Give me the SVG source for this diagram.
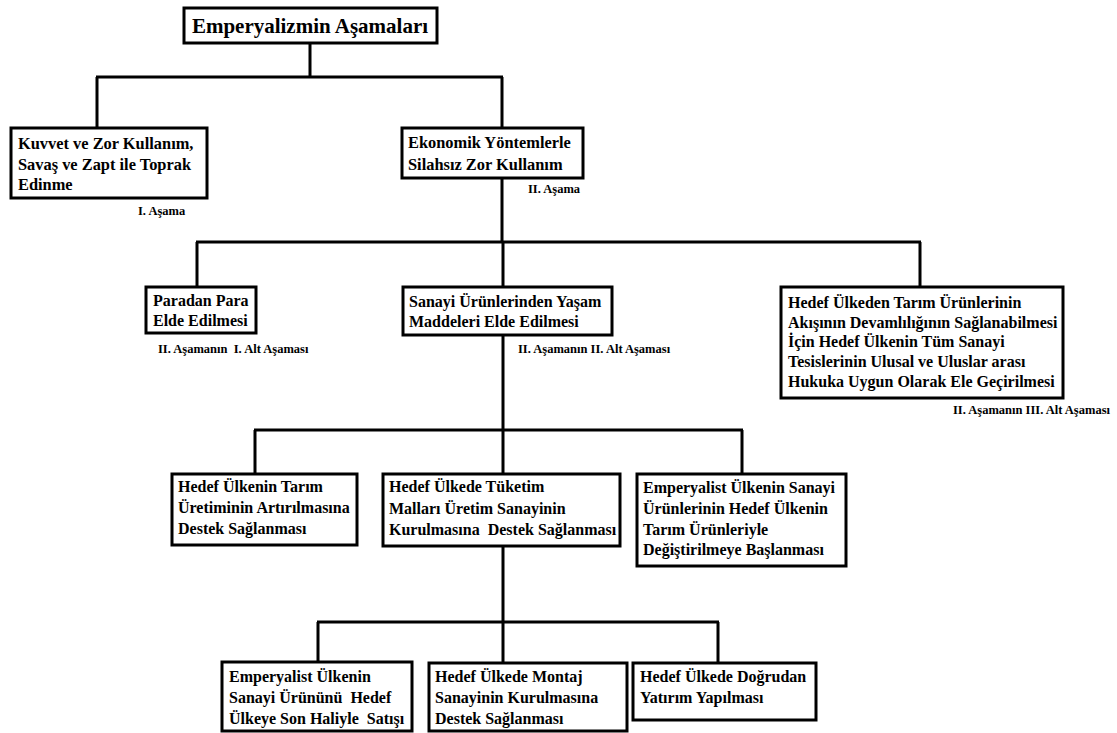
<svg xmlns="http://www.w3.org/2000/svg" width="1117" height="733" viewBox="0 0 1117 733">
<style>
.box{fill:#fff;stroke:#000;stroke-width:3}
.t{font-family:"Liberation Serif","Times New Roman",serif;font-weight:bold;font-size:16px;fill:#000}
.t1{font-size:16.4px}
.title{font-family:"Liberation Serif","Times New Roman",serif;font-weight:bold;font-size:21px;fill:#000}
.lbl{font-family:"Liberation Serif","Times New Roman",serif;font-weight:bold;font-size:12.5px;fill:#000}
.c{fill:none;stroke:#000;stroke-width:3}
</style>
<rect width="1117" height="733" fill="#fff"/>
<g id="connectors" class="c">
<path d="M310,43 V77 M96,77 H503 M97,77 V128 M502,77 V128"/>
<path d="M502,178 V242 M196,242 H921 M197,242 V287 M503,242 V287 M920,242 V287"/>
<path d="M503,335 V474 M254,430 H743 M255,430 V474 M742,430 V474"/>
<path d="M503,546 V663 M317,622 H719 M318,622 V662 M718,622 V663"/>
</g>
<g id="n0">
<rect class="box" x="184" y="8" width="253" height="35"/>
<text class="title" x="310" y="33" text-anchor="middle">Emperyalizmin Aşamaları</text>
</g>
<g id="n1">
<rect class="box" x="11" y="128" width="196" height="70"/>
<text class="t t1" x="18" y="149">Kuvvet ve Zor Kullanım,</text>
<text class="t t1" x="18" y="170">Savaş ve Zapt ile Toprak</text>
<text class="t t1" x="18" y="190">Edinme</text>
<text class="lbl" x="138" y="215">I. Aşama</text>
</g>
<g id="n2">
<rect class="box" x="402" y="128" width="181" height="50"/>
<text class="t t1" x="408" y="148">Ekonomik Yöntemlerle</text>
<text class="t t1" x="408" y="170">Silahsız Zor Kullanım</text>
<text class="lbl" x="528" y="193">II. Aşama</text>
</g>
<g id="n3">
<rect class="box" x="146" y="287" width="110" height="46"/>
<text class="t" x="153" y="306">Paradan Para</text>
<text class="t" x="153" y="326">Elde Edilmesi</text>
<text class="lbl" x="158" y="353" xml:space="preserve">II. Aşamanın  I. Alt Aşaması</text>
</g>
<g id="n4">
<rect class="box" x="403" y="287" width="209" height="48"/>
<text class="t" x="409" y="307">Sanayi Ürünlerinden Yaşam</text>
<text class="t" x="409" y="327">Maddeleri Elde Edilmesi</text>
<text class="lbl" x="518" y="353">II. Aşamanın II. Alt Aşaması</text>
</g>
<g id="n5">
<rect class="box" x="781" y="287" width="282" height="111"/>
<text class="t" x="788" y="308">Hedef Ülkeden Tarım Ürünlerinin</text>
<text class="t" x="788" y="328">Akışının Devamlılığının Sağlanabilmesi</text>
<text class="t" x="788" y="347">İçin Hedef Ülkenin Tüm Sanayi</text>
<text class="t" x="788" y="367">Tesislerinin Ulusal ve Uluslar arası</text>
<text class="t" x="788" y="387">Hukuka Uygun Olarak Ele Geçirilmesi</text>
<text class="lbl" x="953" y="414">II. Aşamanın III. Alt Aşaması</text>
</g>
<g id="n6">
<rect class="box" x="172" y="474" width="185" height="71"/>
<text class="t" x="178" y="492">Hedef Ülkenin Tarım</text>
<text class="t" x="178" y="513">Üretiminin Artırılmasına</text>
<text class="t" x="178" y="534">Destek Sağlanması</text>
</g>
<g id="n7">
<rect class="box" x="383" y="474" width="237" height="72"/>
<text class="t" x="389" y="492">Hedef Ülkede Tüketim</text>
<text class="t" x="389" y="514">Malları Üretim Sanayinin</text>
<text class="t" x="389" y="535" xml:space="preserve">Kurulmasına  Destek Sağlanması</text>
</g>
<g id="n8">
<rect class="box" x="637" y="474" width="209" height="92"/>
<text class="t" x="643" y="493">Emperyalist Ülkenin Sanayi</text>
<text class="t" x="643" y="514">Ürünlerinin Hedef Ülkenin</text>
<text class="t" x="643" y="535">Tarım Ürünleriyle</text>
<text class="t" x="643" y="555">Değiştirilmeye Başlanması</text>
</g>
<g id="n9">
<rect class="box" x="222" y="662" width="190" height="69"/>
<text class="t" x="229" y="682">Emperyalist Ülkenin</text>
<text class="t" x="229" y="703" xml:space="preserve">Sanayi Ürününü  Hedef</text>
<text class="t" x="229" y="724" xml:space="preserve">Ülkeye Son Haliyle  Satışı</text>
</g>
<g id="n10">
<rect class="box" x="429" y="663" width="198" height="68"/>
<text class="t" x="435" y="682">Hedef Ülkede Montaj</text>
<text class="t" x="435" y="703">Sanayinin Kurulmasına</text>
<text class="t" x="435" y="724">Destek Sağlanması</text>
</g>
<g id="n11">
<rect class="box" x="633" y="663" width="183" height="57"/>
<text class="t" x="640" y="682">Hedef Ülkede Doğrudan</text>
<text class="t" x="640" y="703">Yatırım Yapılması</text>
</g>
</svg>
